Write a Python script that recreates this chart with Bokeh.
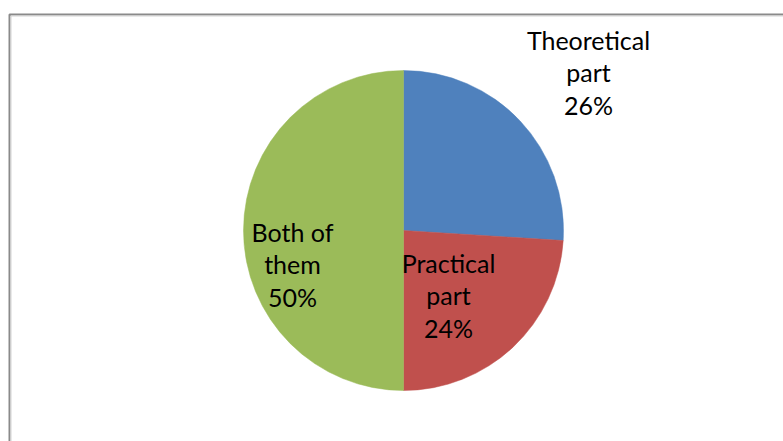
import math
from bokeh.plotting import figure
from bokeh.models import Range1d, ColumnDataSource
from bokeh.core.properties import value
from bokeh.embed import file_html
from bokeh.resources import INLINE

# Survey shares
categories = ["Theoretical part", "Practical part", "Both of them"]
shares = [26, 24, 50]
colors = ["#4F81BD", "#C0504D", "#9BBB59"]
label_texts = ["Theoretical\npart\n26%", "Practical\npart\n24%", "Both of\nthem\n50%"]

# layout (page pixel coordinates, y measured upwards)
W, H = 783, 441
cx, cy, radius = 403, H - 230, 160
label_x = [588, 448, 292]
label_y = [H - 72, H - 295, H - 264]

total = float(sum(shares))
starts, ends = [], []
acc = 0.0
for s in shares:
    # slices run clockwise from 12 o'clock
    a0 = math.pi / 2 - 2 * math.pi * acc / total
    acc += s
    a1 = math.pi / 2 - 2 * math.pi * acc / total
    starts.append(a1)
    ends.append(a0)

src = ColumnDataSource(dict(cat=categories, share=shares, color=colors,
                            start=starts, end=ends,
                            x=[cx] * 3, y=[cy] * 3))

p = figure(width=W, height=H, output_backend="svg", toolbar_location=None,
           x_range=Range1d(0, W), y_range=Range1d(0, H),
           min_border=0, outline_line_color=None)
p.axis.visible = False
p.grid.visible = False
p.background_fill_color = "white"
p.border_fill_color = "white"

# chart-area border (only left and top edges fall inside the page)
p.line(x=[9, 9, W + 10], y=[-10, H - 14, H - 14], line_color="#8a8a8a", line_width=2)
p.line(x=[10.5, 10.5, W + 10], y=[-10, H - 15.5, H - 15.5], line_color="#d4d4d4", line_width=1)

p.wedge(x="x", y="y", radius=radius, radius_units="screen",
        start_angle="start", end_angle="end", fill_color="color",
        line_color="color", line_width=0.5, source=src)

p.text(x=label_x, y=label_y, text=label_texts,
       text_font=value("Lato"), text_font_size="25px", text_color="#000000",
       text_align="center", text_baseline="middle", text_line_height=1.07)

open("out.html", "w").write(file_html(p, INLINE))
